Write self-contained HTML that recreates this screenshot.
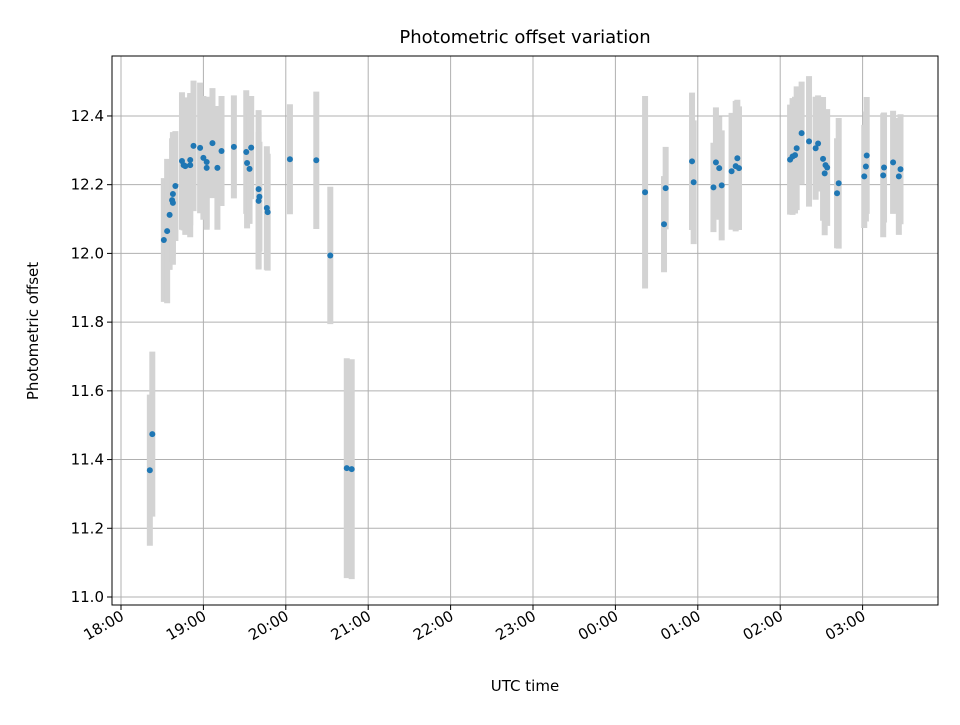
<!DOCTYPE html>
<html><head><meta charset="utf-8"><style>
body{margin:0;background:#fff;font-family:"Liberation Sans","DejaVu Sans",sans-serif}
svg text{font-family:"DejaVu Sans","Liberation Sans",sans-serif}
</style></head><body>
<svg id="c" width="960" height="720" xmlns="http://www.w3.org/2000/svg"></svg>
<script>
const times=[0.35,0.38,0.52,0.56,0.59,0.62,0.63,0.63,0.66,0.74,0.76,0.78,0.84,0.84,0.88,0.96,1.00,1.04,1.04,1.11,1.17,1.22,1.37,1.52,1.53,1.56,1.58,1.67,1.68,1.67,1.77,1.78,2.05,2.37,2.54,2.74,2.80,
6.36,6.59,6.61,6.93,6.95,7.19,7.22,7.26,7.29,7.41,7.46,7.50,7.48,8.12,8.15,8.18,8.20,8.26,8.35,8.43,8.46,8.52,8.55,8.57,8.54,8.71,8.69,9.02,9.04,9.05,9.25,9.26,9.37,9.44,9.46];
const values=[11.369,11.474,12.039,12.065,12.112,12.155,12.147,12.173,12.196,12.269,12.257,12.254,12.272,12.257,12.313,12.307,12.278,12.266,12.249,12.321,12.249,12.298,12.310,12.295,12.263,12.246,12.308,12.187,12.165,12.153,12.132,12.120,12.274,12.271,11.994,11.375,11.372,
12.178,12.085,12.190,12.268,12.207,12.192,12.265,12.248,12.198,12.239,12.254,12.248,12.277,12.273,12.282,12.286,12.306,12.350,12.326,12.306,12.320,12.275,12.257,12.250,12.233,12.204,12.175,12.224,12.253,12.285,12.227,12.250,12.265,12.224,12.245];
const errors=[0.22,0.24,0.18,0.21,0.16,0.18,0.18,0.18,0.16,0.20,0.19,0.20,0.19,0.21,0.19,0.19,0.18,0.19,0.18,0.16,0.18,0.16,0.15,0.18,0.19,0.16,0.15,0.23,0.16,0.20,0.18,0.17,0.16,0.20,0.20,0.32,0.32,
0.28,0.14,0.12,0.20,0.18,0.13,0.16,0.15,0.16,0.17,0.19,0.18,0.17,0.16,0.17,0.17,0.18,0.15,0.19,0.15,0.14,0.18,0.16,0.17,0.18,0.19,0.16,0.15,0.16,0.17,0.18,0.16,0.15,0.17,0.16];
const yTicks=[11.0,11.2,11.4,11.6,11.8,12.0,12.2,12.4];
const xTickLabels=["18:00","19:00","20:00","21:00","22:00","23:00","00:00","01:00","02:00","03:00"];
const L=112,R=938,T=56,B=605;
const xs=h=>121+h*82.4;
const ys=v=>597-(v-11)*343.6;
const svg=document.getElementById('c');const NS='http://www.w3.org/2000/svg';
function mk(t,a,p){const e=document.createElementNS(NS,t);for(const k in a)e.setAttribute(k,a[k]);(p||svg).appendChild(e);return e;}
const grid=mk('g',{});
xTickLabels.forEach((lab,i)=>{const x=xs(i);
 mk('line',{x1:x,x2:x,y1:T,y2:B,stroke:'#b0b0b0','stroke-width':1},grid);
 mk('line',{x1:x,x2:x,y1:B,y2:B+5,stroke:'#000'});
 const ax=x+4, ay=B+14;
 const t=mk('text',{x:ax,y:ay,'font-size':15,'text-anchor':'end',transform:`rotate(-30 ${ax} ${ay})`});t.textContent=lab;
 });
yTicks.forEach(v=>{const y=ys(v);
 mk('line',{x1:L,x2:R,y1:y,y2:y,stroke:'#b0b0b0','stroke-width':1},grid);
 mk('line',{x1:L-5,x2:L,y1:y,y2:y,stroke:'#000'});
 const t=mk('text',{x:L-8,y:y+5,'font-size':15,'text-anchor':'end'});t.textContent=v.toFixed(1);
 });
const eg=mk('g',{});
times.forEach((h,i)=>{const e=mk('line',{x1:xs(h),x2:xs(h),y1:ys(values[i]-errors[i]),y2:ys(values[i]+errors[i]),stroke:'#d3d3d3','stroke-width':6},eg);
 });
const pg=mk('g',{});
times.forEach((h,i)=>{const c=mk('circle',{cx:xs(h),cy:ys(values[i]),r:3,fill:'#1f77b4'},pg);
 });
const fr=mk('rect',{x:L,y:T,width:R-L,height:B-T,fill:'none',stroke:'#000','stroke-width':1});

let t=mk('text',{x:525,y:43,'font-size':18,'text-anchor':'middle'});t.textContent='Photometric offset variation';

t=mk('text',{x:525,y:691,'font-size':15,'text-anchor':'middle'});t.textContent='UTC time';

t=mk('text',{x:38,y:331,'font-size':15,'text-anchor':'middle',transform:'rotate(-90 38 331)'});t.textContent='Photometric offset';

</script>
</body></html>
